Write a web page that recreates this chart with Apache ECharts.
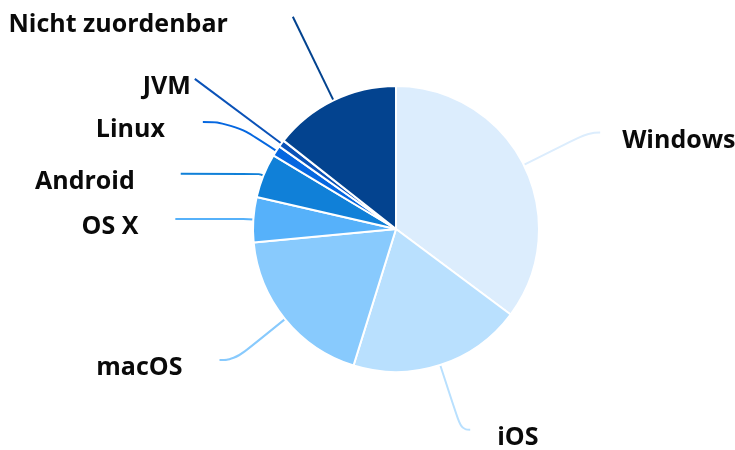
<!DOCTYPE html>
<html>
<head>
<meta charset="utf-8">
<script src="https://cdn.jsdelivr.net/npm/echarts@6/dist/echarts.min.js"></script>
<style>
  html, body { margin: 0; padding: 0; background: #fff; }
  #chart { width: 735px; height: 450px; }
</style>
</head>
<body>
<div id="chart"></div>
<script>
// Betriebssysteme (Anteil in %)
var categories = ['Windows', 'iOS', 'macOS', 'OS X', 'Android', 'Linux', 'JVM', 'Nicht zuordenbar'];
var shares = [35.2, 19.6, 18.7, 5.1, 5.0, 1.2, 0.8, 14.4];

// Darstellung
var colors = ['#dcedfd', '#b9e0fe', '#88cafd', '#56b1fa', '#1080d8', '#0567e0', '#0a52b8', '#03438f'];
// Beschriftungslinien: [length, length2, Abstand zum Text]
var lineStyles = [[72, 12, 22], [68, 9, 27], [65, 15, 37], [10, 68, 37],
                  [5, 78, 46], [53, 29, 38], [108, 0, 4], [93, 0, 65]];

var pieData = [];
for (var i = 0; i < categories.length; i++) {
    pieData.push({
        name: categories[i],
        value: shares[i],
        itemStyle: { color: colors[i] },
        labelLine: { length: lineStyles[i][0], length2: lineStyles[i][1] },
        label: { distanceToLabelLine: lineStyles[i][2] }
    });
}

var chart = echarts.init(document.getElementById('chart'));
chart.setOption({
    animation: false,
    series: [{
        type: 'pie',
        center: [396, 229],
        radius: 143,
        startAngle: 90,
        clockwise: true,
        avoidLabelOverlap: false,
        bleedMargin: 0,
        labelLayout: { hideOverlap: false },
        itemStyle: { borderColor: '#fff', borderWidth: 2 },
        label: {
            formatter: '{t|{b}}',
            overflow: 'none',
            rich: {
                t: {
                    color: '#0a0a0a',
                    fontFamily: 'Open Sans',
                    fontWeight: 'bold',
                    fontSize: 25,
                    padding: [16, 0, 0, 0]
                }
            }
        },
        labelLine: {
            show: true,
            smooth: 0.5,
            lineStyle: { width: 2 }
        },
        data: pieData
    }]
});
</script>
</body>
</html>
